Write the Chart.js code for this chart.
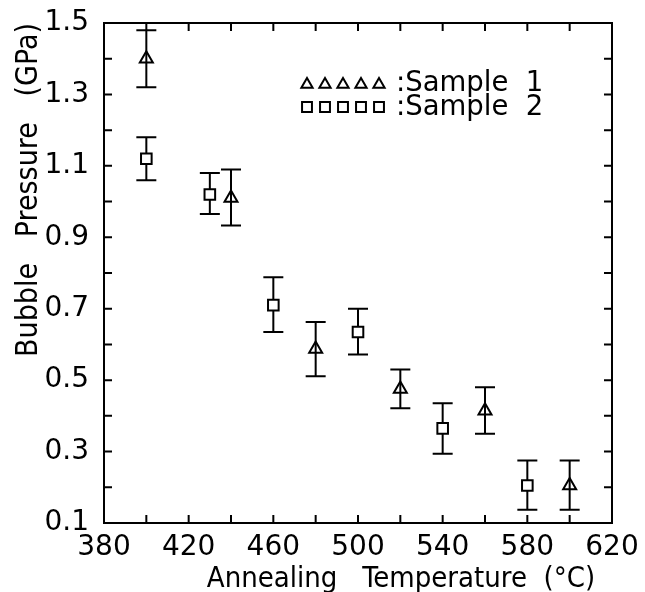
<!DOCTYPE html>
<html><head><meta charset="utf-8">
<script src="https://cdn.jsdelivr.net/npm/chart.js@4"></script>
<style>html,body{margin:0;padding:0;background:#fff}canvas{display:block}</style>
</head><body>
<canvas id="c" width="645" height="592"></canvas>
<script>
const sample1Temps = [400, 440, 480, 520, 560, 600];
const sample1Pressure = [1.40, 1.01, 0.587, 0.475, 0.414, 0.205];
const sample1Low = [1.32, 0.933, 0.511, 0.421, 0.35, 0.137];
const sample1High = [1.48, 1.09, 0.663, 0.53, 0.48, 0.275];
const sample2Temps = [400, 430, 460, 500, 540, 580];
const sample2Pressure = [1.12, 1.02, 0.71, 0.635, 0.365, 0.205];
const sample2Low = [1.06, 0.965, 0.635, 0.572, 0.294, 0.137];
const sample2High = [1.18, 1.08, 0.788, 0.70, 0.435, 0.275];
const xTickLabels = ['380', '420', '460', '500', '540', '580', '620'];
const yTickLabels = ['0.1', '0.3', '0.5', '0.7', '0.9', '1.1', '1.3', '1.5'];
const seriesNames = ['Sample  1', 'Sample  2'];
const xTitle = 'Annealing   Temperature  (°C)';
const yTitle = 'Bubble   Pressure   (GPa)';

const FONT = "'DejaVu Sans', sans-serif";
const FONT_C = "'DejaVu Sans Condensed', 'DejaVu Sans', sans-serif";
Chart.defaults.font.family = FONT;
Chart.defaults.color = '#000';

function mark(ctx, style, r, x, y, fill) {
  ctx.save();
  ctx.lineWidth = 2; ctx.strokeStyle = '#000'; ctx.fillStyle = fill;
  Chart.helpers.drawPoint(ctx, {pointStyle: style, radius: r, borderWidth: 2, rotation: 0}, x, y);
  ctx.restore();
}

const errorBars = {
  id: 'errorBars',
  beforeDatasetsDraw(chart) {
    const {ctx, scales: {x, y}} = chart;
    ctx.save();
    ctx.strokeStyle = '#000'; ctx.lineWidth = 2;
    chart.data.datasets.forEach(ds => {
      ds.data.forEach((p, i) => {
        const px = x.getPixelForValue(p.x);
        const yl = y.getPixelForValue(ds.errLow[i]);
        const yh = y.getPixelForValue(ds.errHigh[i]);
        ctx.beginPath();
        ctx.moveTo(px, yl); ctx.lineTo(px, yh);
        ctx.moveTo(px - 10, yl); ctx.lineTo(px + 10, yl);
        ctx.moveTo(px - 10, yh); ctx.lineTo(px + 10, yh);
        ctx.stroke();
      });
    });
    ctx.restore();
  }
};

const frame = {
  id: 'frame',
  afterDraw(chart) {
    const {ctx, chartArea: a, scales: {x, y}} = chart;
    const L = 8;
    ctx.save();
    ctx.strokeStyle = '#000'; ctx.lineWidth = 2;
    ctx.strokeRect(a.left, a.top, a.right - a.left, a.bottom - a.top);
    ctx.beginPath();
    x.ticks.forEach(t => {
      const px = x.getPixelForValue(t.value);
      ctx.moveTo(px, a.bottom); ctx.lineTo(px, a.bottom - L);
      ctx.moveTo(px, a.top); ctx.lineTo(px, a.top + L);
    });
    y.ticks.forEach(t => {
      const py = y.getPixelForValue(t.value);
      ctx.moveTo(a.left, py); ctx.lineTo(a.left + L, py);
      ctx.moveTo(a.right, py); ctx.lineTo(a.right - L, py);
    });
    ctx.stroke();

    // axis titles
    ctx.fillStyle = '#000';
    ctx.textAlign = 'center'; ctx.textBaseline = 'alphabetic';
    ctx.font = '29px ' + FONT_C;
    ctx.fillText(xTitle, a.left + 297, a.bottom + 64);
    ctx.save();
    ctx.font = '30px ' + FONT_C;
    ctx.translate(a.left - 67, a.top + 167);
    ctx.rotate(-Math.PI / 2);
    ctx.fillText(yTitle, 0, 0);
    ctx.restore();

    // legend
    const rows = [
      {style: 'triangle', r: 6.5, fill: 'rgba(0,0,0,0)', name: seriesNames[0]},
      {style: 'rect', r: 7, fill: '#fff', name: seriesNames[1]}
    ];
    ctx.font = '27.5px ' + FONT;
    ctx.textAlign = 'left'; ctx.textBaseline = 'middle';
    rows.forEach((row, k) => {
      const cy = a.top + 60 + k * 24;
      for (let j = 0; j < 5; j++) {
        mark(ctx, row.style, row.r, a.left + 203 + j * 18, cy + (row.style === 'triangle' ? 1.5 : 0), row.fill);
      }
      ctx.fillText(':' + row.name, a.left + 292, cy + 1);
    });
    ctx.restore();
  }
};

new Chart(document.getElementById('c'), {
  type: 'scatter',
  data: {
    datasets: [
      {
        label: seriesNames[0],
        data: sample1Temps.map((t, i) => ({x: t, y: sample1Pressure[i]})),
        errLow: sample1Low, errHigh: sample1High,
        pointStyle: 'triangle', pointRadius: 7.5,
        pointBorderColor: '#000', pointBackgroundColor: 'rgba(0,0,0,0)', pointBorderWidth: 2,
        showLine: false
      },
      {
        label: seriesNames[1],
        data: sample2Temps.map((t, i) => ({x: t, y: sample2Pressure[i]})),
        errLow: sample2Low, errHigh: sample2High,
        pointStyle: 'rect', pointRadius: 7.5,
        pointBorderColor: '#000', pointBackgroundColor: '#fff', pointBorderWidth: 2,
        showLine: false
      }
    ]
  },
  options: {
    responsive: false,
    devicePixelRatio: 1,
    animation: false,
    layout: {padding: {left: 0, top: 23, right: 33, bottom: 0}},
    plugins: {legend: {display: false}, tooltip: {enabled: false}},
    scales: {
      x: {
        type: 'linear', min: 380, max: 620,
        grid: {display: false, drawTicks: false}, border: {display: false},
        afterFit(s) { s.height = 69; s.paddingLeft = 0; s.paddingRight = 0; },
        ticks: {
          stepSize: 20, autoSkip: false, maxRotation: 0, minRotation: 0, padding: 8,
          font: {size: 28}, color: '#000',
          callback: v => xTickLabels.includes(String(v)) ? String(v) : ''
        }
      },
      y: {
        type: 'linear', min: 0.1, max: 1.5,
        grid: {display: false, drawTicks: false}, border: {display: false},
        afterFit(s) { s.width = 104; s.paddingTop = 0; s.paddingBottom = 0; },
        ticks: {
          stepSize: 0.1, autoSkip: false, padding: 15,
          font: {size: 28}, color: '#000',
          callback: v => { const s = Number(v).toFixed(1); return yTickLabels.includes(s) ? s : ''; }
        }
      }
    }
  },
  plugins: [errorBars, frame]
});
</script>
</body></html>
